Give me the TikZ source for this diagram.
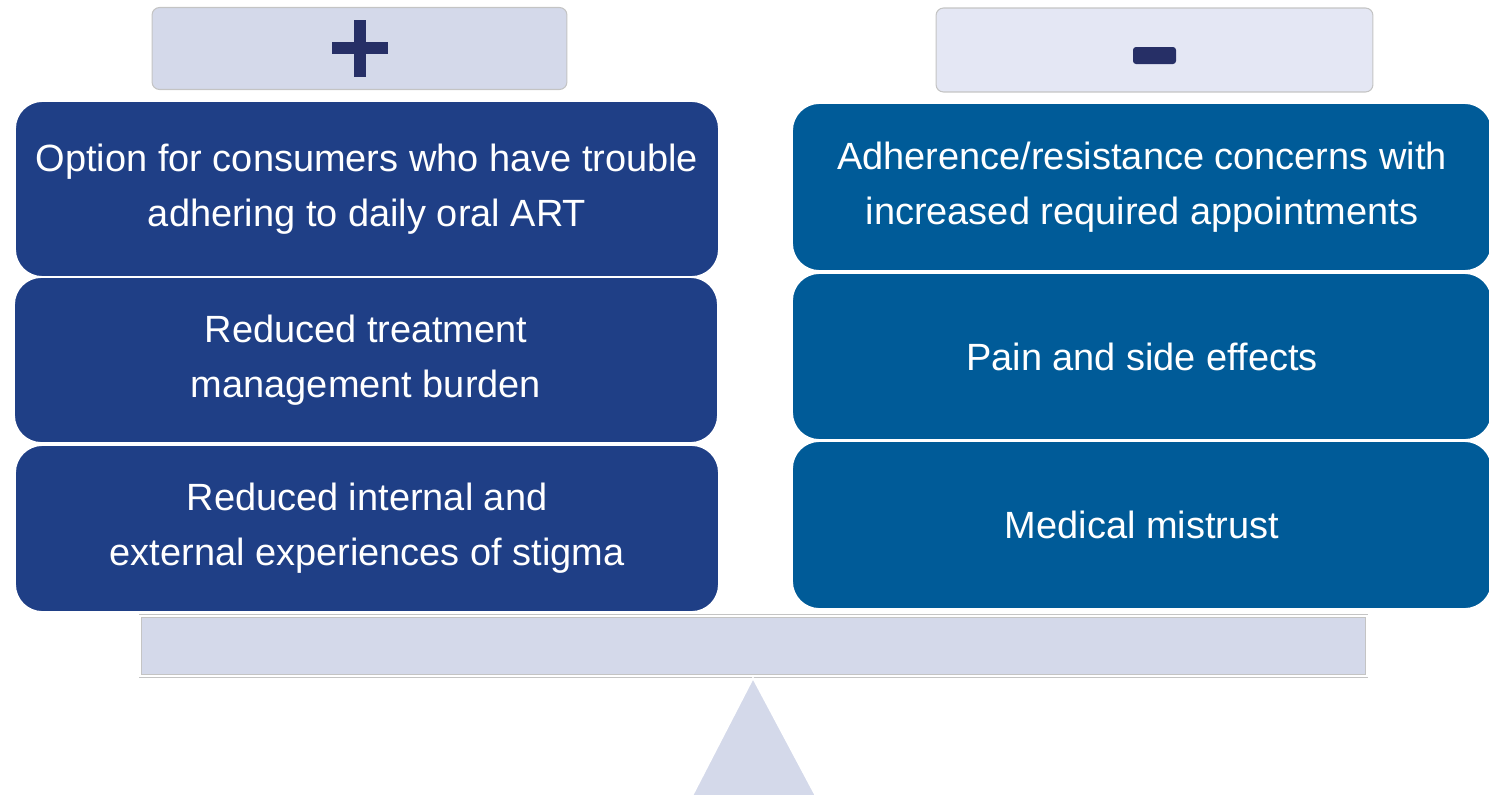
\documentclass[tikz,border=0pt]{standalone}
\usepackage{fontspec}
\setmainfont{Liberation Sans}
\usepackage{tikz}
\definecolor{procol}{HTML}{1F3F86}
\definecolor{concol}{HTML}{005B98}
\definecolor{signcol}{HTML}{262F66}
\definecolor{palecol}{HTML}{D4D9EA}
\definecolor{paler}{HTML}{E4E7F4}
\definecolor{rimcol}{HTML}{C4C4C4}

\begin{document}
\begin{tikzpicture}
         [x=0.02cm,y=-0.02cm,
          every node/.style={inner sep=0pt,outer sep=0pt},
          item/.style={rounded corners=0.55cm,draw=white,line width=1pt,
            text=white,align=center,minimum width=14.08cm,
            font=\fontsize{21.6}{31.3}\selectfont},
          pro/.style={item,fill=procol},
          con/.style={item,fill=concol,minimum width=14cm},
          head/.style={rounded corners=0.15cm,draw=rimcol,line width=0.6pt,minimum height=1.64cm}]
         \useasboundingbox (0,0) rectangle (1489,795);
         % scale
         \node[head,fill=palecol,minimum width=8.3cm] (plus) at (359.5,48.5) {};
         \node[head,fill=paler,minimum width=8.74cm,minimum height=1.68cm] (minus) at (1154.5,50) {};
         \draw[signcol,line width=0.24cm] (332,48) -- (388,48) (360,20) -- (360,77);
         \fill[signcol,rounded corners=0.06cm] (1133,47) rectangle (1176,64);
         % pros
         \node[pro,minimum height=3.52cm] (p1) at (367,189) {Option for consumers who have trouble\\adhering to daily oral ART};
         \node[pro,minimum height=3.32cm] (p2) at (366,360) {Reduced treatment\\management burden};
         \node[pro,minimum height=3.34cm] (p3) at (367,528.5) {Reduced internal and\\external experiences of stigma};
         % cons
         \node[con,minimum height=3.36cm] (c1) at (1142,187) {Adherence/resistance concerns with\\increased required appointments};
         \node[con,minimum height=3.34cm] (c2) at (1142,356.5) {Pain and side effects};
         \node[con,minimum height=3.36cm] (c3) at (1142,525) {Medical mistrust};
         % beam and fulcrum
         \node[fill=palecol,draw=rimcol,double=white,double distance=1pt,
               minimum width=24.54cm,minimum height=1.2cm] (beam) at (753.5,646) {};
         \filldraw[fill=palecol,draw=white,line width=1pt] (753,678) -- (690,800) -- (818,800) -- cycle;
       \end{tikzpicture}
\end{document}
